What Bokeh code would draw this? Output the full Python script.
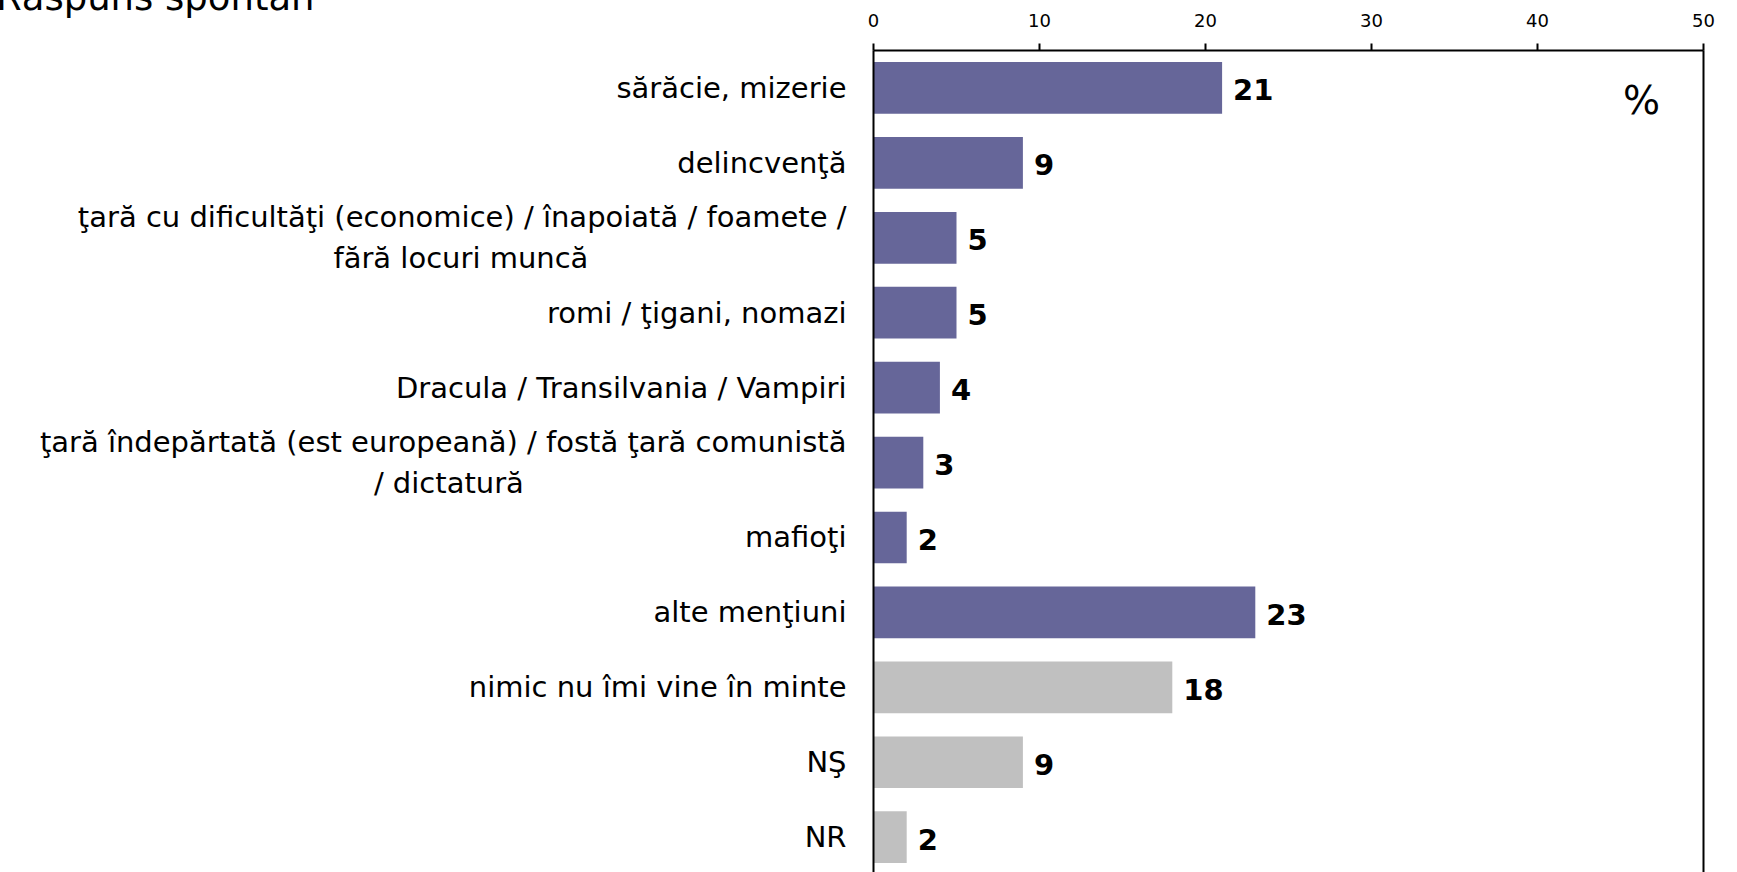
from bokeh.plotting import figure
from bokeh.layouts import column
from bokeh.models import LinearAxis, FixedTicker, Range1d, Label, ColumnDataSource, Div
from bokeh.embed import file_html
from bokeh.resources import INLINE
from bokeh.core.properties import value

# ---- data ----
categories = [
    "sărăcie, mizerie",
    "delincvenţă",
    "ţară cu dificultăţi (economice) / înapoiată / foamete /\nfără locuri muncă",
    "romi / ţigani, nomazi",
    "Dracula / Transilvania / Vampiri",
    "ţară îndepărtată (est europeană) / fostă ţară comunistă\n/ dictatură",
    "mafioţi",
    "alte menţiuni",
    "nimic nu îmi vine în minte",
    "NŞ",
    "NR",
]
values = [21, 9, 5, 5, 4, 3, 2, 23, 18, 9, 2]
groups = ["mention"] * 8 + ["none"] * 3
x_ticks = [0, 10, 20, 30, 40, 50]
title_text = "Răspuns spontan"
unit_text = "%"

# ---- styling / layout ----
FONT = "DejaVu Sans"
COLORS = {"mention": "#666699", "none": "#C0C0C0"}
W, H = 1737, 872
LEFT, TOP, RIGHT = 873, 50, 1703
BAND = 74.92
X_MAX = 50
# second-line padding (non-breaking spaces) so wrapped labels look centred
PAD = {2: 28, 5: 35}
TITLE_SIZE = 37
TITLE_BOX = 36
TITLE_SHIFT = 20   # how far the title box is pushed above the page top
PLOT_PULL = 21     # how far the figure is pulled up under the title box


def px_x(px):
    return (px - LEFT) / (RIGHT - LEFT) * X_MAX


def px_y(py):
    return (py - TOP) / BAND - 0.5


idx = list(range(len(categories)))
src = ColumnDataSource(dict(
    y=idx,
    v=values,
    label=[str(v) for v in values],
    color=[COLORS[g] for g in groups],
))

frame_h = H - TOP
p = figure(
    width=W, height=H,
    x_range=Range1d(0, X_MAX),
    y_range=Range1d(-0.5 + frame_h / BAND, -0.5),
    x_axis_location="above",
    output_backend="svg",
    toolbar_location=None,
    min_border_left=LEFT, min_border_top=TOP,
    min_border_right=W - RIGHT, min_border_bottom=0,
)
p.styles = {"margin-top": f"-{PLOT_PULL}px"}
p.outline_line_color = None
p.xgrid.visible = False
p.ygrid.visible = False
p.background_fill_color = "white"
p.border_fill_color = None

p.hbar(y="y", left=0, right="v", height=0.69, fill_color="color",
       line_color=None, source=src)
p.text(x="v", y="y", text="label", x_offset=11, y_offset=2,
       text_baseline="middle", text_align="left",
       text_font=value(FONT), text_font_style="bold",
       text_font_size="29px", text_color="black", source=src)

xa = p.xaxis[0]
xa.ticker = FixedTicker(ticks=x_ticks)
xa.major_tick_out = 7
xa.major_tick_in = 0
xa.minor_tick_line_color = None
xa.axis_line_width = 2
xa.major_tick_line_width = 2
xa.axis_line_color = "black"
xa.major_tick_line_color = "black"
xa.major_label_text_font = FONT
xa.major_label_text_font_size = "18px"
xa.major_label_text_color = "black"
xa.major_label_standoff = 17

overrides = {}
for i, c in zip(idx, categories):
    lines = c.split("\n")
    if len(lines) > 1:
        lines[1] = lines[1] + "\u00a0" * PAD.get(i, 0)
    overrides[i] = "\n".join(lines)

ya = p.yaxis[0]
ya.ticker = FixedTicker(ticks=idx)
ya.major_label_overrides = overrides
ya.major_tick_out = 0
ya.major_tick_in = 0
ya.minor_tick_line_color = None
ya.axis_line_width = 2
ya.axis_line_color = "black"
ya.major_label_text_font = FONT
ya.major_label_text_font_size = "29px"
ya.major_label_text_color = "black"
ya.major_label_standoff = 27

ra = LinearAxis(ticker=FixedTicker(ticks=[]))
ra.axis_line_width = 2
ra.axis_line_color = "black"
ra.major_tick_line_color = None
ra.minor_tick_line_color = None
ra.major_label_text_font_size = "0px"
p.add_layout(ra, "right")

p.add_layout(Label(x=px_x(1641), y=px_y(100),
                   text=unit_text, text_align="center", text_baseline="middle",
                   text_font=FONT, text_font_size="39px", text_color="black"))

title = Div(
    text=title_text, width=420, height=TITLE_BOX,
    styles={
        "margin-top": f"-{TITLE_SHIFT}px",
        "margin-left": "-4px",
        "font-family": FONT,
        "font-size": f"{TITLE_SIZE}px",
        "line-height": f"{TITLE_BOX}px",
        "color": "black",
        "white-space": "nowrap",
    },
)

layout = column(title, p, spacing=0)
open("out.html", "w").write(file_html(layout, INLINE))
